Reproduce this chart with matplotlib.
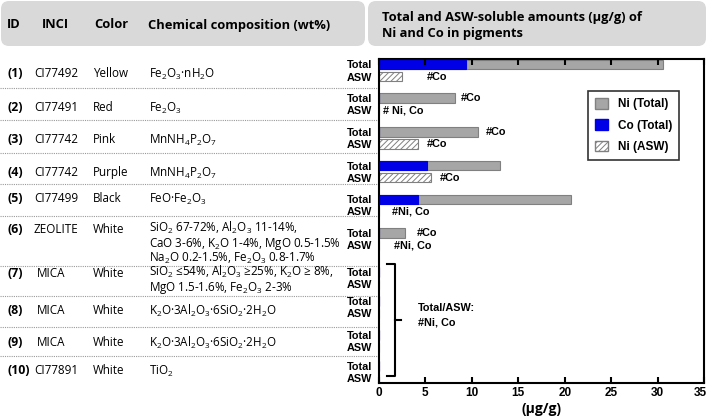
import matplotlib
matplotlib.use("Agg")
import matplotlib.pyplot as plt
from matplotlib.patches import FancyBboxPatch, Patch
from matplotlib.transforms import ScaledTranslation

plt.rcParams['mathtext.fontset'] = 'custom'
plt.rcParams['mathtext.rm'] = 'Open Sans'
plt.rcParams['mathtext.it'] = 'Open Sans:italic'
plt.rcParams['mathtext.bf'] = 'Open Sans:bold'
plt.rcParams['hatch.linewidth'] = 0.7
plt.rcParams['hatch.color'] = '#7f7f7f'

# ---- data ----
ids = ['(1)', '(2)', '(3)', '(4)', '(5)', '(6)', '(7)', '(8)', '(9)', '(10)']
inci = ['CI77492', 'CI77491', 'CI77742', 'CI77742', 'CI77499',
        'ZEOLITE', 'MICA', 'MICA', 'MICA', 'CI77891']
pigment_color = ['Yellow', 'Red', 'Pink', 'Purple', 'Black',
                 'White', 'White', 'White', 'White', 'White']
composition = [
    r'Fe$_2$O$_3$·nH$_2$O',
    r'Fe$_2$O$_3$',
    r'MnNH$_4$P$_2$O$_7$',
    r'MnNH$_4$P$_2$O$_7$',
    r'FeO·Fe$_2$O$_3$',
    r'SiO$_2$ 67-72%, Al$_2$O$_3$ 11-14%,' '\n'
    r'CaO 3-6%, K$_2$O 1-4%, MgO 0.5-1.5%' '\n'
    r'Na$_2$O 0.2-1.5%, Fe$_2$O$_3$ 0.8-1.7%',
    r'SiO$_2$ ≤54%, Al$_2$O$_3$ ≥25%, K$_2$O ≥ 8%,' '\n'
    r'MgO 1.5-1.6%, Fe$_2$O$_3$ 2-3%',
    r'K$_2$O·3Al$_2$O$_3$·6SiO$_2$·2H$_2$O',
    r'K$_2$O·3Al$_2$O$_3$·6SiO$_2$·2H$_2$O',
    r'TiO$_2$',
]
ni_total = [30.6, 8.2, 10.7, 13.0, 20.7, 2.8, 0, 0, 0, 0]
co_total = [9.4, 0, 0, 5.2, 4.2, 0, 0, 0, 0, 0]
ni_asw = [2.5, 0, 4.2, 5.6, 0, 0, 0, 0, 0, 0]

# notes: (row index, 0=Total line / 1=ASW line, x in ug/g, text)
notes = [(0, 1, 5.1, '#Co'),
         (1, 0, 8.8, '#Co'), (1, 1, 0.4, '# Ni, Co'),
         (2, 0, 11.5, '#Co'), (2, 1, 5.1, '#Co'),
         (3, 1, 6.6, '#Co'),
         (4, 1, 1.4, '#Ni, Co'),
         (5, 0, 4.1, '#Co'), (5, 1, 1.6, '#Ni, Co')]

# ---- layout ----
W, H = 709, 418
row_y = [1, 2, 3, 4, 5, 6, 7.16, 8.02, 9.03, 9.95]   # Total line of each row
asw_off = 0.36
text_y = [71, 105, 137, 170, 196, 227, 271, 308, 340, 368]   # table rows (px)
sep_y = [87.5, 120, 153, 183.5, 216, 266, 296, 327, 356]

fig = plt.figure(figsize=(W / 100, H / 100), dpi=100)

# overlay in pixel units for the table part
ov = fig.add_axes([0, 0, 1, 1])
ov.set_xlim(0, W)
ov.set_ylim(H, 0)
ov.axis('off')

hdr = dict(boxstyle='round,pad=0,rounding_size=8', fc='#d9d9d9', ec='none')
ov.add_patch(FancyBboxPatch((1, 1), 364, 45, **hdr))
ov.add_patch(FancyBboxPatch((368, 1), 338, 45, **hdr))

hfont = dict(family='Open Sans', fontweight='bold', fontsize=9.3, va='center')
ov.text(7, 25, 'ID', **hfont)
ov.text(42, 25, 'INCI', **hfont)
ov.text(94, 25, 'Color', **hfont)
ov.text(148, 25, 'Chemical composition (wt%)', **hfont)
ov.text(382, 18, 'Total and ASW-soluble amounts (µg/g) of', **hfont)
ov.text(382, 33, 'Ni and Co in pigments', **hfont)

bfont = dict(family='Open Sans', fontsize=8.4)
for i in range(len(ids)):
    y = text_y[i] + 1
    ov.text(7, y, ids[i], fontweight='bold', family='Open Sans', fontsize=8.8,
            va='center_baseline')
    ov.text(37 if inci[i] == 'MICA' else 34, y, inci[i], va='center_baseline', **bfont)
    ov.text(93, y, pigment_color[i], va='center_baseline', **bfont)
    if '\n' in composition[i]:
        ov.text(149, y - 8, composition[i], va='top', linespacing=0.95, **bfont)
    else:
        ov.text(149, y, composition[i], va='center_baseline', **bfont)

for y in sep_y:
    ov.plot([0, 378], [y, y], color='#9a9a9a', lw=0.8, ls=(0, (1, 1)))

# ---- bar chart ----
ax = fig.add_axes([379 / W, 1 - 383 / H, 325 / W, 324 / H])
bh = 0.28
y_tot = row_y
y_asw = [y + asw_off for y in row_y]
ax.barh(y_tot, ni_total, height=bh, color='#a6a6a6', edgecolor='#808080', lw=0.8)
ax.barh(y_tot, co_total, height=bh, color='#0000e6', edgecolor='#0000e6', lw=0.8)
ax.barh(y_asw, ni_asw, height=bh, color='white', edgecolor='#808080', lw=0.8,
        hatch='//////')

ax.set_xlim(0, 35)
ax.set_ylim(10.45, 0.837)
ax.set_xticks(range(0, 36, 5))
ax.tick_params(axis='x', direction='in', top=True, length=4, width=1.5,
               labelsize=8.5, pad=3)
xlabs = ax.get_xticklabels()
for lab in xlabs:
    lab.set_fontweight('bold')
    lab.set_family('Liberation Sans')
# last label sits a little inside the figure edge, as in the original
xlabs[-1].set_transform(xlabs[-1].get_transform() +
                        ScaledTranslation(-4 / 100, 0, fig.dpi_scale_trans))
ax.set_yticks(y_tot + y_asw)
ax.set_yticklabels(['Total'] * 10 + ['ASW'] * 10, fontweight='bold',
                   family='Liberation Sans', fontsize=7.8)
ax.tick_params(axis='y', length=0, pad=5)
for s in ax.spines.values():
    s.set_linewidth(1.5)
ax.set_xlabel('(µg/g)', family='Open Sans', fontweight='bold', fontsize=10,
              labelpad=2)

nfont = dict(family='Liberation Sans', fontweight='bold', fontsize=7.8, va='center')
for r, lvl, x, t in notes:
    yy = row_y[r] + (asw_off if lvl else 0)
    ax.text(x, yy, t, **nfont)

# bracket for rows 7-10
yb0, yb1 = row_y[6] - 0.25, row_y[9] + 0.29
ym = (yb0 + yb1) / 2
ax.plot([0.9, 1.7, 1.7, 0.9], [yb0, yb0, yb1, yb1], color='black', lw=1.5)
ax.plot([1.7, 2.4], [ym, ym], color='black', lw=1.5)
ax.text(4.2, ym - 0.35, 'Total/ASW:', **nfont)
ax.text(4.2, ym + 0.08, '#Ni, Co', **nfont)

handles = [Patch(fc='#a6a6a6', ec='#808080'),
           Patch(fc='#0000e6', ec='#0000e6'),
           Patch(fc='white', ec='#808080', hatch='//////')]
leg = ax.legend(handles, ['Ni (Total)', 'Co (Total)', 'Ni (ASW)'],
                loc='upper right', bbox_to_anchor=(0.924, 0.901),
                borderaxespad=0, fancybox=False, edgecolor='black',
                prop=dict(family='Liberation Sans', weight='bold', size=8.5),
                handlelength=1.1, handleheight=1.0, labelspacing=0.75,
                handletextpad=0.8, borderpad=0.6)
leg.get_frame().set_linewidth(1.2)

fig.savefig('out.png', dpi=100)
